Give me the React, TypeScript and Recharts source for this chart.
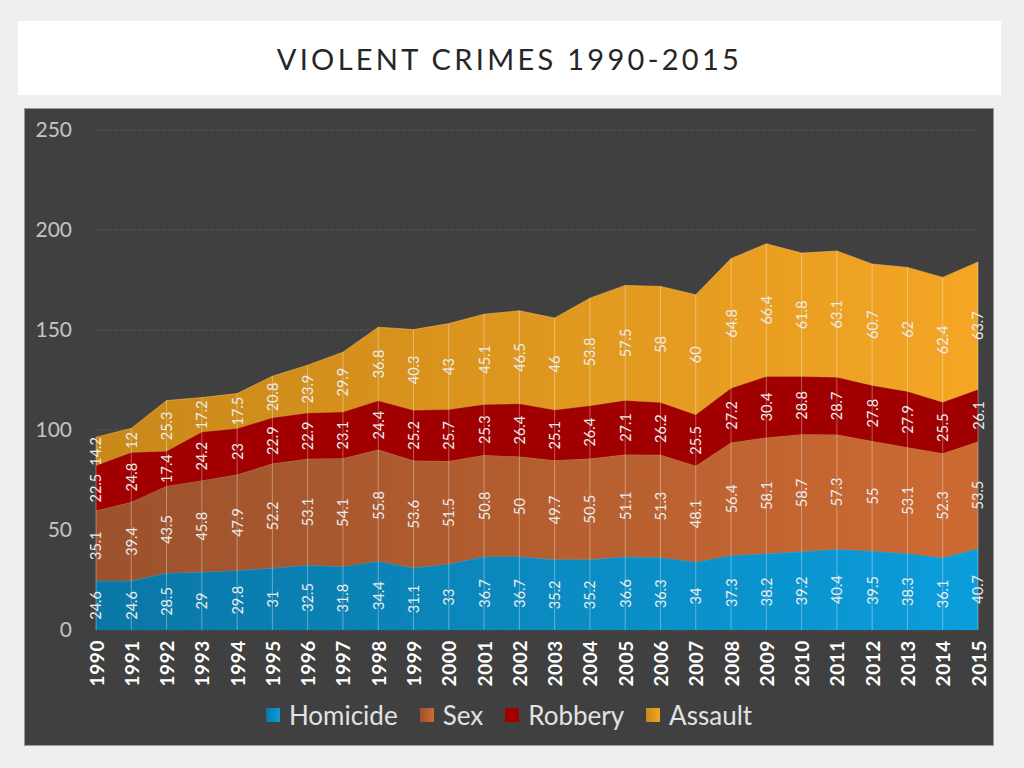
import { Area, AreaChart, CartesianGrid, Legend, ReferenceLine, XAxis, YAxis } from 'recharts';

const years = [
  '1990', '1991', '1992', '1993', '1994', '1995', '1996', '1997', '1998', '1999', '2000', '2001', '2002',
  '2003', '2004', '2005', '2006', '2007', '2008', '2009', '2010', '2011', '2012', '2013', '2014', '2015',
];
const homicide = [24.6, 24.6, 28.5, 29, 29.8, 31, 32.5, 31.8, 34.4, 31.1, 33, 36.7, 36.7, 35.2, 35.2, 36.6, 36.3, 34, 37.3, 38.2, 39.2, 40.4, 39.5, 38.3, 36.1, 40.7];
const sex = [35.1, 39.4, 43.5, 45.8, 47.9, 52.2, 53.1, 54.1, 55.8, 53.6, 51.5, 50.8, 50, 49.7, 50.5, 51.1, 51.3, 48.1, 56.4, 58.1, 58.7, 57.3, 55, 53.1, 52.3, 53.5];
const robbery = [22.5, 24.8, 17.4, 24.2, 23, 22.9, 22.9, 23.1, 24.4, 25.2, 25.7, 25.3, 26.4, 25.1, 26.4, 27.1, 26.2, 25.5, 27.2, 30.4, 28.8, 28.7, 27.8, 27.9, 25.5, 26.1];
const assault = [14.2, 12, 25.3, 17.2, 17.5, 20.8, 23.9, 29.9, 36.8, 40.3, 43, 45.1, 46.5, 46, 53.8, 57.5, 58, 60, 64.8, 66.4, 61.8, 63.1, 60.7, 62, 62.4, 63.7];
const yTicks = [0, 50, 100, 150, 200, 250];

const FONT = 'Lato, "Open Sans", sans-serif';
const CHART_W = 968;
const CHART_H = 636;
const MARGIN = { top: 21, right: 15, left: 0, bottom: 45 };
const Y_MAX = 250;
const PX_PER_UNIT = (CHART_H - MARGIN.top - MARGIN.bottom - 70) / Y_MAX;

const seriesList = [
  { key: 'homicide', name: 'Homicide', values: homicide, from: '#0a77a6', to: '#0b9ddb', stroke: '#5fb9e0' },
  { key: 'sex', name: 'Sex', values: sex, from: '#9c522d', to: '#cd6a32', stroke: '#d98a5a' },
  { key: 'robbery', name: 'Robbery', values: robbery, from: '#a20000', to: '#a00000', stroke: '#c04040' },
  { key: 'assault', name: 'Assault', values: assault, from: '#c98819', to: '#f4a624', stroke: '#f5b850' },
];

const data = years.map((year, i) => ({
  year,
  homicide: homicide[i],
  sex: sex[i],
  robbery: robbery[i],
  assault: assault[i],
  total: homicide[i] + sex[i] + robbery[i] + assault[i],
}));

function makeLabel(values: number[]) {
  return (props: any) => {
    const { x, y, index } = props;
    const v = values[index];
    if (v === undefined || x === undefined || y === undefined) return null;
    const mid = y + (v * PX_PER_UNIT) / 2;
    return (
      <text
        key={`lbl-${index}`}
        x={x}
        y={mid}
        transform={`rotate(-90, ${x}, ${mid})`}
        textAnchor="middle"
        dominantBaseline="central"
        fill="#ececec"
        fontSize={14.5}
        fontFamily={FONT}
      >
        {v}
      </text>
    );
  };
}

function YearTick(props: any) {
  const { x, y, payload } = props;
  return (
    <text
      x={x}
      y={y + 2}
      transform={`rotate(-90, ${x}, ${y + 2})`}
      textAnchor="end"
      dominantBaseline="central"
      fill="#ffffff"
      fontWeight="bold"
      fontSize={19}
      letterSpacing={0.6}
      fontFamily={FONT}
    >
      {payload.value}
    </text>
  );
}

function LegendContent() {
  return (
    <div style={{ display: 'flex', justifyContent: 'center', alignItems: 'center', fontFamily: FONT, fontSize: 26, color: '#e2e2e2' }}>
      {seriesList.map((s, i) => (
        <div key={s.key} style={{ display: 'flex', alignItems: 'center', marginRight: i < seriesList.length - 1 ? 22 : 0 }}>
          <span
            style={{
              display: 'inline-block',
              width: 14,
              height: 14,
              marginRight: 9,
              background: `linear-gradient(to right, ${s.from}, ${s.to})`,
            }}
          />
          <span>{s.name}</span>
        </div>
      ))}
    </div>
  );
}

export default function App() {
  return (
    <div style={{ position: 'fixed', left: 0, top: 0, width: 1024, height: 768, background: '#efefef', fontFamily: FONT }}>
      <div
        style={{
          position: 'absolute',
          left: 18,
          top: 21,
          width: 983,
          height: 74,
          background: '#ffffff',
          display: 'flex',
          alignItems: 'center',
          justifyContent: 'center',
          fontSize: 29,
          letterSpacing: 3.3,
          color: '#262626',
        }}
      >
        VIOLENT CRIMES 1990-2015
      </div>
      <div
        style={{
          position: 'absolute',
          left: 24,
          top: 108,
          width: CHART_W,
          height: CHART_H,
          background: '#404040',
          border: '1px solid #9a9a9a',
        }}
      >
        <AreaChart width={CHART_W} height={CHART_H} data={data} margin={MARGIN}>
          <defs>
            {seriesList.map((s) => (
              <linearGradient key={s.key} id={`grad-${s.key}`} x1="0" y1="0" x2="1" y2="0">
                <stop offset="0%" stopColor={s.from} />
                <stop offset="100%" stopColor={s.to} />
              </linearGradient>
            ))}
          </defs>
          <CartesianGrid vertical={false} stroke="#6a6a6a" strokeDasharray="1 2" />
          <XAxis dataKey="year" axisLine={false} tickLine={false} height={70} interval={0} tick={<YearTick />} />
          <YAxis
            domain={[0, Y_MAX]}
            ticks={yTicks}
            width={71}
            axisLine={false}
            tickLine={false}
            tickMargin={18}
            tick={{ fill: '#c4c4c4', fontSize: 21, fontFamily: FONT }}
          />
          {seriesList.map((s) => (
            <Area
              key={s.key}
              type="linear"
              dataKey={s.key}
              name={s.name}
              stackId="crimes"
              fill={`url(#grad-${s.key})`}
              fillOpacity={1}
              stroke={s.stroke}
              strokeWidth={1}
              strokeOpacity={0.6}
              isAnimationActive={false}
              label={makeLabel(s.values)}
            />
          ))}
          {data.map((d) => (
            <ReferenceLine
              key={`drop-${d.year}`}
              segment={[{ x: d.year, y: 0 }, { x: d.year, y: d.total }]}
              stroke="#ffffff"
              strokeOpacity={0.35}
              strokeWidth={1}
            />
          ))}
          <Legend
            verticalAlign="middle"
            align="center"
            layout="horizontal"
            content={<LegendContent />}
            wrapperStyle={{ top: 590, left: 0, width: CHART_W }}
          />
        </AreaChart>
      </div>
    </div>
  );
}
